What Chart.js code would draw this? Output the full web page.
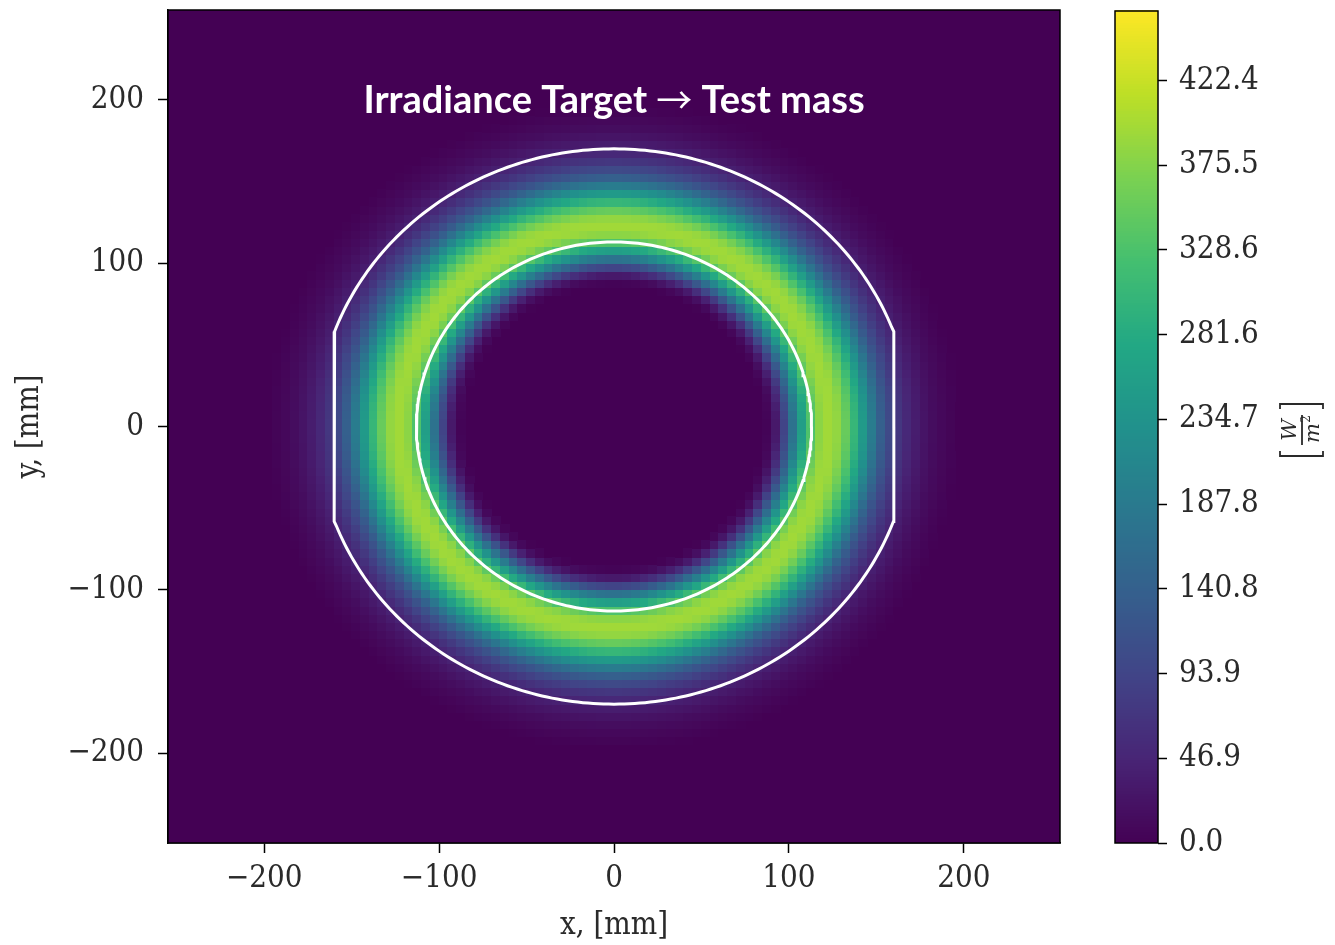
<!DOCTYPE html>
<html lang="en">
<head>
  <meta charset="UTF-8">
  <title>Irradiance Target → Test mass</title>
  <script src="https://cdn.jsdelivr.net/npm/chart.js"></script>
  <style>
    body { margin: 0; background: #fff; }
    #wrap { position: relative; width: 1335px; height: 945px; }
    #map { position: absolute; left: 0; top: 0; }
    #bar { position: absolute; left: 1080px; top: 0; }
  </style>
</head>
<body>
  <div id="wrap">
    <canvas id="map" width="1080" height="945"></canvas>
    <canvas id="bar" width="255" height="945"></canvas>
  </div>

  <script>
    // radial irradiance profile of the annular beam (mm -> W/m^2)
    const radius     = [0, 86, 90, 93, 96, 99, 102, 105, 108, 111, 114, 117, 120, 123, 126, 129, 132, 135, 138, 141, 145, 149, 153, 157, 161, 166, 171, 177, 183, 190, 198, 400];
    const irradiance = [0,  0, 12, 35, 70, 115, 165, 215, 265, 310, 350, 378, 392, 396, 392, 380, 358, 330, 300, 265, 220, 175, 135, 105, 80, 58, 40, 26, 15, 7, 0, 0];

    const xTicks = [-200, -100, 0, 100, 200];
    const yTicks = [-200, -100, 0, 100, 200];
    const barTicks = [0.0, 46.9, 93.9, 140.8, 187.8, 234.7, 281.6, 328.6, 375.5, 422.4];
    const barMax = 461;

    const extent = 255;       // half width of the map, mm
    const cell = 5;           // grid pitch, mm
    const innerRadius = 113;  // inner aperture circle, mm
    const outerRadius = 170;  // test mass edge, mm
    const outerFlat = 160;    // flats cut on the test mass, mm

    const serif = '"DejaVu Serif Condensed", "DejaVu Serif", serif';
    const ink = '#2a2a2a';

    const viridisStops = [
      [68, 1, 84], [72, 36, 117], [65, 68, 135], [53, 95, 141], [42, 120, 142],
      [33, 145, 140], [34, 168, 132], [68, 191, 112], [122, 209, 81], [189, 223, 38], [253, 231, 37]
    ];

    function viridis(t) {
      t = Math.min(1, Math.max(0, t));
      const f = t * (viridisStops.length - 1);
      const i = Math.min(Math.floor(f), viridisStops.length - 2);
      const k = f - i;
      const a = viridisStops[i], b = viridisStops[i + 1];
      return 'rgb(' + [0, 1, 2].map(j => Math.round(a[j] + k * (b[j] - a[j]))).join(',') + ')';
    }

    function irradianceAt(r) {
      for (let i = 1; i < radius.length; i++) {
        if (r <= radius[i]) {
          const k = (r - radius[i - 1]) / (radius[i] - radius[i - 1]);
          return irradiance[i - 1] + k * (irradiance[i] - irradiance[i - 1]);
        }
      }
      return 0;
    }

    // grid cells of the irradiance map
    const cells = [];
    for (let cx = -extent + cell / 2; cx < extent; cx += cell) {
      for (let cy = -extent + cell / 2; cy < extent; cy += cell) {
        cells.push({ x: cx, y: cy, v: irradianceAt(Math.hypot(cx, cy)) });
      }
    }

    // outlines: aperture circle and the flatted test mass
    const innerRing = [];
    const outerRing = [];
    for (let a = 0; a <= 360; a += 1) {
      const t = a * Math.PI / 180;
      innerRing.push({ x: innerRadius * Math.cos(t), y: innerRadius * Math.sin(t) });
      const ox = outerRadius * Math.cos(t);
      outerRing.push({ x: Math.max(-outerFlat, Math.min(outerFlat, ox)), y: outerRadius * Math.sin(t) });
    }

    const minus = v => String(v).replace('-', '\u2212');

    // drop the extra room chart.js keeps for the end tick labels
    const noEdgePadding = s => {
      s.paddingTop = 0; s.paddingBottom = 0; s.paddingLeft = 0; s.paddingRight = 0;
    };

    const heatmap = {
      id: 'heatmap',
      beforeDatasetsDraw(chart) {
        const { ctx, chartArea: a, scales: { x, y } } = chart;
        ctx.save();
        ctx.beginPath();
        ctx.rect(a.left, a.top, a.width, a.height);
        ctx.clip();
        ctx.fillStyle = viridis(0);
        ctx.fillRect(a.left, a.top, a.width, a.height);
        cells.forEach(c => {
          if (c.v <= 0) return;
          const x0 = Math.floor(x.getPixelForValue(c.x - cell / 2));
          const x1 = Math.ceil(x.getPixelForValue(c.x + cell / 2));
          const y0 = Math.floor(y.getPixelForValue(c.y + cell / 2));
          const y1 = Math.ceil(y.getPixelForValue(c.y - cell / 2));
          ctx.fillStyle = viridis(c.v / barMax);
          ctx.fillRect(x0, y0, x1 - x0, y1 - y0);
        });
        ctx.restore();
      },
      afterDraw(chart) {
        const { ctx, chartArea: a, scales: { x } } = chart;
        ctx.save();
        ctx.strokeStyle = '#000';
        ctx.lineWidth = 1.5;
        ctx.strokeRect(a.left, a.top, a.width, a.height);

        // title in three runs so the arrow can use a thinner, longer face
        const parts = [
          ['Irradiance Target ', 'bold 38px Lato', 113],
          ['\u2192', '36px "Noto Sans CJK JP"', 114],
          [' Test mass', 'bold 38px Lato', 113]
        ];
        let total = 0;
        parts.forEach(p => { ctx.font = p[1]; p.push(ctx.measureText(p[0]).width); total += p[3]; });
        let tx = x.getPixelForValue(0) - total / 2;
        ctx.fillStyle = '#fff';
        ctx.textAlign = 'left';
        ctx.textBaseline = 'alphabetic';
        parts.forEach(p => {
          ctx.font = p[1];
          ctx.fillText(p[0], tx, p[2]);
          tx += p[3];
        });
        ctx.restore();
      }
    };

    new Chart(document.getElementById('map'), {
      type: 'scatter',
      data: {
        datasets: [
          { data: innerRing, showLine: true, borderColor: '#fff', borderWidth: 3, pointRadius: 0 },
          { data: outerRing, showLine: true, borderColor: '#fff', borderWidth: 3, pointRadius: 0 }
        ]
      },
      options: {
        responsive: false,
        animation: false,
        layout: { padding: { top: 10, right: 20, left: 0, bottom: 0 } },
        plugins: { legend: { display: false }, tooltip: { enabled: false } },
        scales: {
          x: {
            min: -extent, max: extent,
            afterFit: s => { s.height = 102; noEdgePadding(s); },
            afterBuildTicks: s => { s.ticks = xTicks.map(v => ({ value: v })); },
            grid: { drawOnChartArea: false, tickLength: 10, tickColor: '#000', tickWidth: 1.5 },
            border: { color: '#000', width: 1.5 },
            ticks: { color: ink, font: { family: serif, size: 31 }, padding: 7, maxRotation: 0, callback: minus },
            title: { display: true, text: 'x, [mm]', color: ink, font: { family: serif, size: 31 }, padding: { top: 0, bottom: 0 } }
          },
          y: {
            min: -extent, max: extent,
            afterFit: s => { s.width = 168; noEdgePadding(s); },
            afterBuildTicks: s => { s.ticks = yTicks.map(v => ({ value: v })); },
            grid: { drawOnChartArea: false, tickLength: 10, tickColor: '#000', tickWidth: 1.5 },
            border: { color: '#000', width: 1.5 },
            ticks: { color: ink, font: { family: serif, size: 31 }, padding: 14, callback: minus },
            title: { display: true, text: 'y, [mm]', color: ink, font: { family: serif, size: 31 }, padding: { top: 11, bottom: 0 } }
          }
        }
      },
      plugins: [heatmap]
    });

    // colour bar
    const colorbar = {
      id: 'colorbar',
      beforeDatasetsDraw(chart) {
        const { ctx, chartArea: a, scales: { y } } = chart;
        const step = barMax / 300;
        ctx.save();
        for (let v = 0; v < barMax; v += step) {
          const y0 = Math.floor(y.getPixelForValue(v + step));
          const y1 = Math.ceil(y.getPixelForValue(v));
          ctx.fillStyle = viridis((v + step / 2) / barMax);
          ctx.fillRect(a.left, y0, a.width, y1 - y0);
        }
        ctx.strokeStyle = '#000';
        ctx.lineWidth = 1.5;
        ctx.strokeRect(a.left, a.top, a.width, a.height);
        ctx.restore();
      },
      afterDraw(chart) {
        // unit label [W / m^2], set as a fraction and turned upright
        const { ctx } = chart;
        ctx.save();
        ctx.translate(222, 430);
        ctx.rotate(-Math.PI / 2);
        ctx.fillStyle = ink;
        ctx.strokeStyle = ink;
        ctx.lineWidth = 1.8;
        ctx.textAlign = 'center';
        ctx.textBaseline = 'alphabetic';
        ctx.font = 'italic 21px "DejaVu Serif"';
        ctx.fillText('W', 0, -6);
        ctx.fillText('m', -3, 17);
        ctx.font = '12px "DejaVu Serif"';
        ctx.fillText('2', 11, 8);
        ctx.beginPath();
        ctx.moveTo(-15, 0); ctx.lineTo(15, 0);
        ctx.moveTo(-21, -22); ctx.lineTo(-26, -22); ctx.lineTo(-26, 21); ctx.lineTo(-21, 21);
        ctx.moveTo(21, -22); ctx.lineTo(26, -22); ctx.lineTo(26, 21); ctx.lineTo(21, 21);
        ctx.stroke();
        ctx.restore();
      }
    };

    new Chart(document.getElementById('bar'), {
      type: 'scatter',
      data: { datasets: [{ data: [] }] },
      options: {
        responsive: false,
        animation: false,
        layout: { padding: { top: 11, right: 0, left: 35, bottom: 102 } },
        plugins: { legend: { display: false }, tooltip: { enabled: false } },
        scales: {
          x: { display: false, min: 0, max: 1 },
          y: {
            position: 'right',
            min: 0, max: barMax,
            afterFit: s => { s.width = 177; noEdgePadding(s); },
            afterBuildTicks: s => { s.ticks = barTicks.map(v => ({ value: v })); },
            grid: { drawOnChartArea: false, tickLength: 9, tickColor: '#000', tickWidth: 1.5 },
            border: { display: false },
            ticks: { color: ink, font: { family: serif, size: 31 }, padding: 12, callback: v => v.toFixed(1) }
          }
        }
      },
      plugins: [colorbar]
    });
  </script>
</body>
</html>
